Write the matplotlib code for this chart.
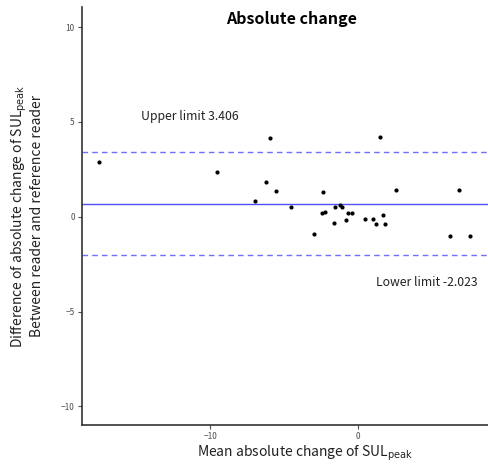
import matplotlib
matplotlib.use("Agg")
import matplotlib.pyplot as plt

plt.rcParams['font.family'] = ['Noto Sans CJK KR', 'DejaVu Sans']

mean_change = [-17.49, -9.53, -6.97, -6.21, -5.92, -5.51, -4.52, -2.94, -2.40, -2.33,
               -2.21, -1.60, -1.54, -1.20, -1.08, -0.79, -0.68, -0.41, 0.52, 1.01,
               1.22, 1.51, 1.74, 1.83, 2.59, 6.27, 6.86, 7.60]
diff_change = [2.88, 2.36, 0.81, 1.85, 4.15, 1.34, 0.53, -0.91, 0.18, 1.29,
               0.25, -0.32, 0.53, 0.62, 0.53, -0.19, 0.21, 0.21, -0.14, -0.12,
               -0.40, 4.18, 0.07, -0.40, 1.41, -1.00, 1.39, -1.00]
upper_limit = 3.406
lower_limit = -2.023
bias = (upper_limit + lower_limit) / 2
x_ticks = [-10, 0]
y_ticks = [-10, -5, 0, 5, 10]

fig = plt.figure(figsize=(4.88, 4.69), dpi=100)
ax = fig.add_axes([0.1674, 0.0938, 0.8326, 0.891])

ax.axhline(bias, color='#4f4fff', lw=1.0)
ax.axhline(upper_limit, color='#6f6fff', lw=1.0, ls=(0, (4, 3)))
ax.axhline(lower_limit, color='#6f6fff', lw=1.0, ls=(0, (4, 3)))
ax.scatter(mean_change, diff_change, s=9, color='black', zorder=3, linewidths=0)

ax.set_xlim(-18.69, 8.82)
ax.set_ylim(-10.98, 11.05)
ax.set_xticks(x_ticks)
ax.set_yticks(y_ticks)
ax.tick_params(axis='both', labelsize=6, colors='#4d4d4d', length=3, width=0.8, pad=2)

for s in ['top', 'right']:
    ax.spines[s].set_visible(False)
for s in ['left', 'bottom']:
    ax.spines[s].set_color('#333333')
    ax.spines[s].set_linewidth(1.2)

ax.text(-4.5, 10.42, 'Absolute change', ha='center', va='center', fontsize=11.5, fontweight='bold')
ax.text(-11.35, 5.27, 'Upper limit 3.406', ha='center', va='center', fontsize=8.8, color='#222222')
ax.text(4.69, -3.46, 'Lower limit -2.023', ha='center', va='center', fontsize=8.8, color='#222222')

ax.set_xlabel('Mean absolute change of SUL$_{\\mathrm{peak}}$', fontsize=10, color='#222222')
ax.xaxis.set_label_coords(0.55, -0.045, transform=ax.transAxes)
ax.xaxis.label.set_va('top')
ax.set_ylabel('Difference of absolute change of SUL$_{\\mathrm{peak}}$\nBetween reader and reference reader',
              fontsize=10, color='#222222', labelpad=12, linespacing=1.1)

fig.savefig('out.png', dpi=100, facecolor='white')
